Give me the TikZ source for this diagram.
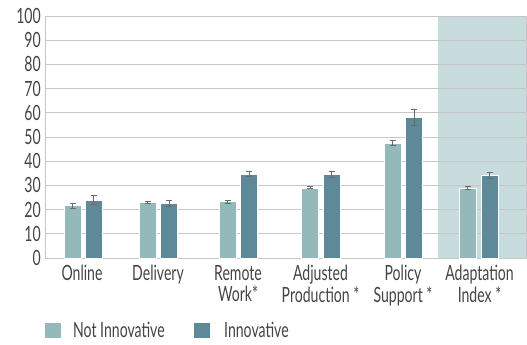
\documentclass[tikz,border=0pt]{standalone}
\usepackage{fontspec}
\setmainfont[FakeStretch=0.67]{Lato}
\usepackage{tikz}
\definecolor{notinno}{HTML}{93B9BA}
\definecolor{inno}{HTML}{5E8999}
\definecolor{panel}{HTML}{C8DCDE}
\definecolor{gridgray}{HTML}{C6C6C6}
\definecolor{errgray}{HTML}{6A6A6A}
\definecolor{labelgray}{HTML}{444444}

\begin{document}
\begin{tikzpicture}[x=1pt, y=1pt, every node/.style={font=\fontsize{21}{21.5}\selectfont, text=labelgray, inner sep=0pt}]
	\useasboundingbox (0,0) rectangle (527,345);
	\begin{scope}[yshift=87pt, y=2.42pt]
		% index panel
		\fill[panel] (438,0) rectangle (526,100);
		% grid
		\foreach \v in {10,20,...,100}
			\draw[gridgray, line width=0.9pt] (45,\v) -- (526,\v);
		\draw[gridgray, line width=0.9pt] (45,100) -- (45,0) -- (526,0) -- (526,100);
		\foreach \v in {0,10,...,100}
			\node[anchor=east] at (41,\v) {\v};
		% bars: left edge / value / error
		\foreach \xl/\h/\e in {64/21.6/0.9, 139/23/0.4, 219/23.3/0.6, 301.5/29/0.4, 384/47.6/1.2, 459/29/0.5}{
			\filldraw[fill=notinno, draw=white, line width=0.5pt] (\xl,0) rectangle (\xl+17,\h);
			\draw[errgray, line width=0.8pt] (\xl+8.5,\h-\e) -- (\xl+8.5,\h+\e)
				(\xl+5.5,\h-\e) -- (\xl+11.5,\h-\e) (\xl+5.5,\h+\e) -- (\xl+11.5,\h+\e);
		}
		\foreach \xl/\h/\e in {85/24/2, 160.5/22.5/1.1, 240.5/34.7/1.1, 323/34.5/1.1, 405.5/58/3.4, 481/34.2/1.2}{
			\filldraw[fill=inno, draw=white, line width=0.5pt] (\xl,0) rectangle (\xl+17,\h);
			\draw[errgray, line width=0.8pt] (\xl+8.5,\h-\e) -- (\xl+8.5,\h+\e)
				(\xl+5.5,\h-\e) -- (\xl+11.5,\h-\e) (\xl+5.5,\h+\e) -- (\xl+11.5,\h+\e);
		}
	\end{scope}
	% category labels
	\foreach \c/\t in {82/Online, 158/Delivery, 238/{Remote\\Work*}, 320.5/{Adjusted\\Production *}, 403/{Policy\\Support *}, 479.5/{Adaptation\\Index *}}
		\node[anchor=north, align=center] at (\c,80) {\t};
	% legend
	\fill[notinno] (45,7) rectangle (61,22);
	\node[anchor=base west] at (73,7) {Not Innovative};
	\fill[inno] (194,7) rectangle (210,22);
	\node[anchor=base west] at (224,7) {Innovative};
\end{tikzpicture}
\end{document}
